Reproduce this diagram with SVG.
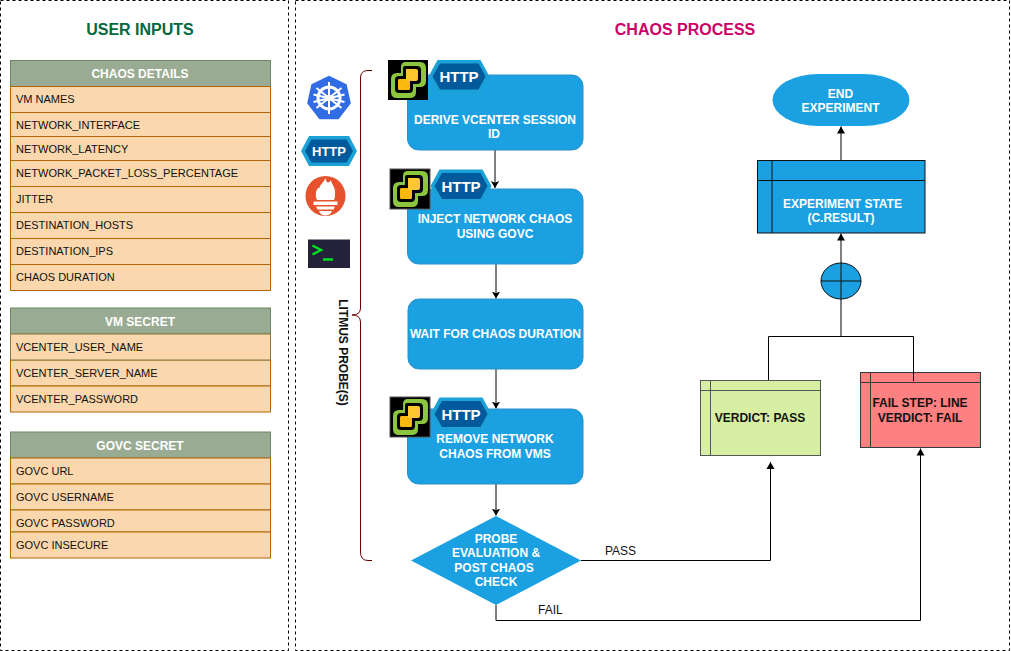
<svg xmlns="http://www.w3.org/2000/svg" xmlns:xlink="http://www.w3.org/1999/xlink" width="1011" height="651" viewBox="0 0 1011 651">
<style>
text{font-family:"Liberation Sans",Arial,sans-serif}
.panel{fill:#fff;stroke:#000;stroke-width:1;stroke-dasharray:3 3}
.title{font-size:16px;font-weight:700;text-anchor:middle}
.hdr{fill:#9aab93;stroke:#6d8764}
.row{fill:#fad7ac;stroke:#b46504}
.rt{font-size:11px;fill:#111}
.ht{font-size:12px;font-weight:700;fill:#fff;text-anchor:middle}
.step{fill:#1ba1e2;stroke:#2b90c9}
.st{font-size:12px;font-weight:700;fill:#fff;text-anchor:middle}
.vt{font-size:12px;font-weight:700;fill:#111;text-anchor:middle}
.lbl{font-size:12px;fill:#111}
.c{fill:none;stroke:#000;stroke-width:1}
.http{font-size:15px;font-weight:700;fill:#fff;text-anchor:middle}
.vb{fill:none;stroke:#555}
</style>
<defs>
<marker id="arr" markerWidth="8" markerHeight="10" refX="7" refY="5" orient="auto" markerUnits="userSpaceOnUse"><path d="M0 0.8L7 5L0 9.2L1.8 5Z" fill="#000"/></marker>
<marker id="tri" markerWidth="8" markerHeight="10" refX="7" refY="4.5" orient="auto" markerUnits="userSpaceOnUse"><path d="M0 0.5L7 4.5L0 8.5Z" fill="#000"/></marker>
<g id="vc">
<rect width="40" height="40" fill="#000"/>
<path d="M18 2H32Q38 2 38 8V21Q38 27 32 27H28V32Q28 38 22 38H9Q3 38 3 32V19Q3 13 9 13H13V7Q13 2 18 2Z" fill="#8cc63f"/>
<path d="M17 6H29Q33 6 33 10V20Q33 24 29 24H25V29Q25 33 21 33H11Q7 33 7 29V20Q7 16 11 16H15V8Q15 6 17 6Z" fill="#000"/>
<path d="M18 9H28Q30 9 30 11V19Q30 21 28 21H22V28Q22 30 20 30H12Q10 30 10 28V21Q10 19 12 19H18Z" fill="#fdc82f"/>
<path d="M10 21Q10 19 12 19H18V21H22V28Q22 30 20 30H12Q10 30 10 28Z" fill="#f9b90f"/>
</g>
<g id="hex">
<polygon points="0,16.500 9,0 52,0 61,16.500 52,33 9,33" fill="#1ba1d6"/>
<polygon points="4,16.500 11.500,3.500 50,3.500 57,16.500 50,29.500 11.500,29.500" fill="#005a9c"/>
</g>
</defs>

<g id="panel-inputs">
<rect class="panel" x="0.500" y="0.500" width="288" height="650"/>
<text class="title" x="140" y="35" fill="#00693e">USER INPUTS</text>
</g>
<g id="panel-process">
<rect class="panel" x="295.500" y="0.500" width="714" height="650"/>
<text class="title" x="685" y="35" fill="#cc0066">CHAOS PROCESS</text>
</g>

<g id="chaos-details">
<rect class="hdr" x="10.500" y="60.500" width="260" height="26"/>
<text class="ht" x="140" y="78">CHAOS DETAILS</text>
<rect class="row" x="10.500" y="86.500" width="260" height="26"/><text class="rt" x="16" y="103">VM NAMES</text>
<rect class="row" x="10.500" y="112.500" width="260" height="24"/><text class="rt" x="16" y="129">NETWORK_INTERFACE</text>
<rect class="row" x="10.500" y="136.500" width="260" height="24"/><text class="rt" x="16" y="153">NETWORK_LATENCY</text>
<rect class="row" x="10.500" y="160.500" width="260" height="26"/><text class="rt" x="16" y="177">NETWORK_PACKET_LOSS_PERCENTAGE</text>
<rect class="row" x="10.500" y="186.500" width="260" height="26"/><text class="rt" x="16" y="203">JITTER</text>
<rect class="row" x="10.500" y="212.500" width="260" height="26"/><text class="rt" x="16" y="229">DESTINATION_HOSTS</text>
<rect class="row" x="10.500" y="238.500" width="260" height="26"/><text class="rt" x="16" y="255">DESTINATION_IPS</text>
<rect class="row" x="10.500" y="264.500" width="260" height="26"/><text class="rt" x="16" y="281">CHAOS DURATION</text>
</g>

<g id="vm-secret">
<rect class="hdr" x="10.500" y="308" width="260" height="26"/>
<text class="ht" x="140" y="326">VM SECRET</text>
<rect class="row" x="10.500" y="360" width="260" height="26"/><text class="rt" x="16" y="377">VCENTER_SERVER_NAME</text>
<rect class="row" x="10.500" y="386" width="260" height="26"/><text class="rt" x="16" y="403">VCENTER_PASSWORD</text>
<rect class="row" style="stroke:#857a3a" x="10.500" y="334" width="260" height="26"/><text class="rt" x="16" y="351">VCENTER_USER_NAME</text>
</g>

<g id="govc-secret">
<rect class="hdr" x="10.500" y="432" width="260" height="26"/>
<text class="ht" x="140" y="450">GOVC SECRET</text>
<rect class="row" x="10.500" y="458" width="260" height="26"/><text class="rt" x="16" y="475">GOVC URL</text>
<rect class="row" x="10.500" y="484" width="260" height="26"/><text class="rt" x="16" y="501">GOVC USERNAME</text>
<rect class="row" x="10.500" y="510" width="260" height="22"/><text class="rt" x="16" y="527">GOVC PASSWORD</text>
<rect class="row" x="10.500" y="532" width="260" height="26"/><text class="rt" x="16" y="549">GOVC INSECURE</text>
</g>

<g id="probe-icons">
<g id="icon-kubernetes">
<polygon points="329,77 345.500,85 349.500,103 338,118 320,118 308.500,103 312.500,85" fill="#326ce5" stroke="#326ce5" stroke-linejoin="round" stroke-width="2.500"/>
<circle cx="329" cy="98" r="11" fill="none" stroke="#fff" stroke-width="3"/>
<circle cx="329" cy="98" r="3" fill="#fff"/>
<path d="M329 82V114M316.500 88L341.500 108M341.500 88L316.500 108M313.500 102L344.500 94.500M344.500 102L313.500 94.500" stroke="#fff" stroke-width="2" fill="none"/>
</g>
<g id="icon-http">
<polygon points="301,151 309,136 349,136 357,151 349,166 309,166" fill="#1ba1d6"/>
<polygon points="305,151 311.500,139.500 346.500,139.500 353,151 346.500,162.500 311.500,162.500" fill="#005a9c"/>
<text x="329" y="156" font-size="13" font-weight="700" fill="#fff" text-anchor="middle">HTTP</text>
</g>
<g id="icon-prometheus">
<circle cx="325.500" cy="196" r="20" fill="#e6522c"/>
<path d="M325.500 178C326 183 329 184 331 180C331 184 336 187 335 194C335 198 334.500 199 334 200H317C316 198 315.500 196 316 192C317 189 318.500 187 319.500 188C319.500 185 323.500 183 325.500 178Z" fill="#fff"/>
<rect x="313.500" y="201.500" width="24" height="3.500" fill="#fff"/>
<path d="M316 206.500H335L333.500 209.500H317.500Z" fill="#fff"/>
<path d="M319 211H332C331 214 328.500 215.500 325.500 215.500C322.500 215.500 320 214 319 211Z" fill="#fff"/>
</g>
<g id="icon-terminal">
<rect x="308" y="239.500" width="42" height="28.500" fill="#24223a"/>
<path d="M312.500 245.500L321 250L312.500 254.500" fill="none" stroke="#00e020" stroke-width="2.500"/>
<path d="M323 259.500H333" fill="none" stroke="#00e020" stroke-width="2.500"/>
</g>
</g>

<g id="connectors">
<path class="c" marker-end="url(#arr)" d="M495 150V188"/>
<path class="c" marker-end="url(#arr)" d="M496 264V298.500"/>
<path class="c" marker-end="url(#arr)" d="M496 369V408.500"/>
<path class="c" marker-end="url(#arr)" d="M496 484V515.500"/>
<path class="c" marker-end="url(#tri)" d="M581 560.500H770.500V462"/>
<path class="c" marker-end="url(#tri)" d="M496 605V620.500H920.500V448.500"/>
<path class="c" d="M768.500 380.500V336.500H913.500V382"/>
<path class="c" marker-end="url(#tri)" d="M841 336V233.500"/>
<path class="c" marker-end="url(#tri)" d="M841 160.500V126.500"/>
<path fill="none" stroke="#660000" stroke-width="1" d="M372 70.500H368Q360.500 70.500 360.500 78V308Q360.500 315 352 315Q360.500 315 360.500 322V552Q360.500 560.500 368 560.500H372"/>
<text x="342" y="352.500" font-size="12" font-weight="700" fill="#111" text-anchor="middle" transform="rotate(90 342 352.500)" dominant-baseline="middle">LITMUS PROBE(S)</text>
<text class="lbl" x="605" y="555">PASS</text>
<text class="lbl" x="538" y="614">FAIL</text>
</g>

<g id="step-derive">
<rect class="step" x="407.500" y="75" width="175.500" height="75" rx="11"/>
<text class="st" x="495" y="124">DERIVE VCENTER SESSION</text>
<text class="st" x="494" y="138">ID</text>
<use href="#vc" x="388" y="60"/>
<use href="#hex" x="428.500" y="60"/>
<text class="http" x="459" y="82">HTTP</text>
</g>
<g id="step-inject">
<rect class="step" x="407.500" y="189" width="175.500" height="75" rx="11"/>
<text class="st" x="495" y="223">INJECT NETWORK CHAOS</text>
<text class="st" x="495" y="238">USING GOVC</text>
<use href="#vc" x="390" y="169"/>
<rect class="vb" x="390" y="169" width="40" height="40"/>
<use href="#hex" x="430.500" y="169.500"/>
<text class="http" x="461" y="191.500">HTTP</text>
</g>
<g id="step-wait">
<rect class="step" x="408" y="299" width="175" height="70" rx="11"/>
<text class="st" x="495.500" y="338">WAIT FOR CHAOS DURATION</text>
</g>
<g id="step-remove">
<rect class="step" x="407.500" y="409" width="175.500" height="75" rx="11"/>
<text class="st" x="495" y="443">REMOVE NETWORK</text>
<text class="st" x="495" y="458">CHAOS FROM VMS</text>
<use href="#vc" x="390" y="397"/>
<rect class="vb" x="390" y="397" width="40" height="40"/>
<use href="#hex" x="430.500" y="397.500"/>
<text class="http" x="461" y="419.500">HTTP</text>
</g>
<g id="decision-probe">
<polygon points="496,516 581,560.500 496,605 411,560.500" fill="#1ba1e2"/>
<text class="st" x="496" y="543">PROBE</text>
<text class="st" x="496" y="557">EVALUATION &amp;</text>
<text class="st" x="494" y="572">POST CHAOS</text>
<text class="st" x="496" y="586">CHECK</text>
</g>
<g id="end-experiment">
<rect x="772.500" y="74" width="137" height="52" rx="46" ry="26" fill="#1ba1e2"/>
<text class="st" x="840.500" y="97.500">END</text>
<text class="st" x="840.500" y="112">EXPERIMENT</text>
</g>
<g id="experiment-state">
<rect x="757.500" y="160.500" width="167.500" height="72.500" fill="#1ba1e2" stroke="#111"/>
<path d="M772 160.500V233M757.500 180.500H925" fill="none" stroke="#111"/>
<text class="st" x="842.500" y="208">EXPERIMENT STATE</text>
<text class="st" x="841" y="222">(C.RESULT)</text>
</g>
<g id="or-junction">
<ellipse cx="841" cy="281" rx="20" ry="18" fill="#1ba1e2" stroke="#111"/>
<path d="M821 281H861M841 263V299" fill="none" stroke="#111"/>
</g>
<g id="verdict-pass">
<rect x="700.500" y="380.500" width="120" height="75" fill="#d7efa2" stroke="#555"/>
<path d="M710.500 380.500V455.500M700.500 390.500H820.500" fill="none" stroke="#555"/>
<text class="vt" x="760" y="422">VERDICT: PASS</text>
</g>
<g id="verdict-fail">
<rect x="860.500" y="372.500" width="120" height="75" fill="#ff8080" stroke="#36393d"/>
<path d="M870.500 372.500V447.500M860.500 382.500H980.500" fill="none" stroke="#36393d"/>
<path d="M913.500 372.500V381" fill="none" stroke="#000"/>
<text class="vt" x="920" y="407">FAIL STEP: LINE</text>
<text class="vt" x="920" y="422">VERDICT: FAIL</text>
</g>
</svg>
